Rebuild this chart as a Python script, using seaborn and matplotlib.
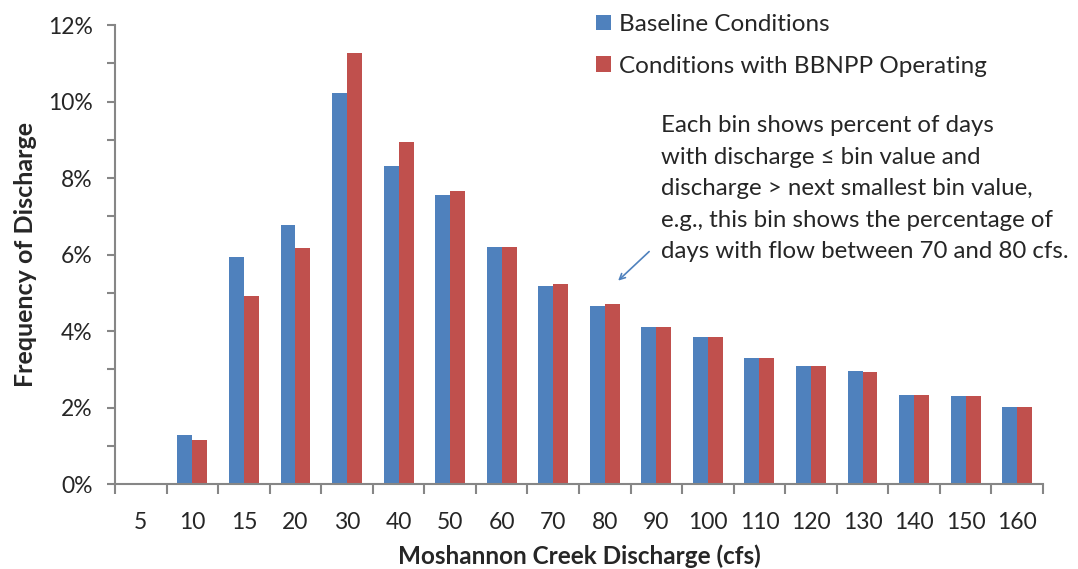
import pandas as pd
import seaborn as sns
import matplotlib.pyplot as plt
from matplotlib.ticker import FixedLocator, MultipleLocator

# Bin labels (cfs) and frequency of discharge (%)
bins = ['5', '10', '15', '20', '30', '40', '50', '60', '70', '80',
        '90', '100', '110', '120', '130', '140', '150', '160']
baseline = [0.0, 1.28, 5.95, 6.78, 10.23, 8.32, 7.57, 6.21, 5.19, 4.67,
            4.10, 3.86, 3.29, 3.10, 2.95, 2.32, 2.30, 2.01]
bbnpp = [0.0, 1.15, 4.93, 6.18, 11.27, 8.95, 7.67, 6.21, 5.22, 4.70,
         4.10, 3.85, 3.29, 3.10, 2.92, 2.32, 2.30, 2.01]
series_names = ['Baseline Conditions', 'Conditions with BBNPP Operating']
colors = ['#4F81BD', '#C0504D']

df = pd.DataFrame({
    'bin': bins * 2,
    'freq': baseline + bbnpp,
    'series': [series_names[0]] * len(bins) + [series_names[1]] * len(bins),
})

sns.set_style('white')
plt.rcParams['font.family'] = ['Lato', 'DejaVu Sans']

fig = plt.figure(figsize=(10.78, 5.69), dpi=100)
ax = fig.add_axes([0.1067, 0.149, 0.8608, 0.807])

sns.barplot(data=df, x='bin', y='freq', hue='series', order=bins,
            hue_order=series_names, palette=colors, width=0.58,
            saturation=1, edgecolor='none', ax=ax)

ax.set_xlim(-0.5, len(bins) - 0.5)
ax.set_ylim(0, 12)

# y axis: labels every 2%, ticks every 1%
ax.set_yticks(range(0, 13, 2))
ax.set_yticklabels([f'{v}%' for v in range(0, 13, 2)])
ax.yaxis.set_minor_locator(MultipleLocator(1))
ax.tick_params(axis='y', which='both', direction='out', length=6, width=1.5,
               color='#868686', labelsize=16.5, pad=10, left=True)

# x axis: ticks at category boundaries
ax.xaxis.set_minor_locator(FixedLocator([i - 0.5 for i in range(len(bins) + 1)]))
ax.tick_params(axis='x', which='major', length=0, labelsize=16.5, pad=20)
ax.tick_params(axis='x', which='minor', direction='out', length=7, width=1.5,
               color='#868686', bottom=True)

for side in ['top', 'right']:
    ax.spines[side].set_visible(False)
for side in ['left', 'bottom']:
    ax.spines[side].set_color('#868686')
    ax.spines[side].set_linewidth(1.5)

ax.set_xlabel('Moshannon Creek Discharge (cfs)', fontsize=17.5, fontweight='bold', labelpad=8)
ax.set_ylabel('Frequency of Discharge', fontsize=18, fontweight='bold', labelpad=8)

ax.legend(loc='upper left', bbox_to_anchor=(596 / 1078, 1 - 14 / 569),
          bbox_transform=fig.transFigure, frameon=False, fontsize=17.5,
          borderpad=0, borderaxespad=0, handlelength=0.6, handleheight=0.6,
          handletextpad=0.35, labelspacing=0.85)

note = ('Each bin shows percent of days\n'
        'with discharge \u2264 bin value and\n'
        'discharge > next smallest bin value,\n'
        'e.g., this bin shows the percentage of\n'
        'days with flow between 70 and 80 cfs.')
fig.text(661 / 1078, 1 - 115 / 569, note, fontsize=17.3, va='top', ha='left', linespacing=1.62)
ax.annotate('', xy=(9.22, 5.27), xytext=(9.9, 6.13),
            arrowprops=dict(arrowstyle='->', color='#4F81BD', lw=1.2))

plt.savefig('out.png', dpi=100)
